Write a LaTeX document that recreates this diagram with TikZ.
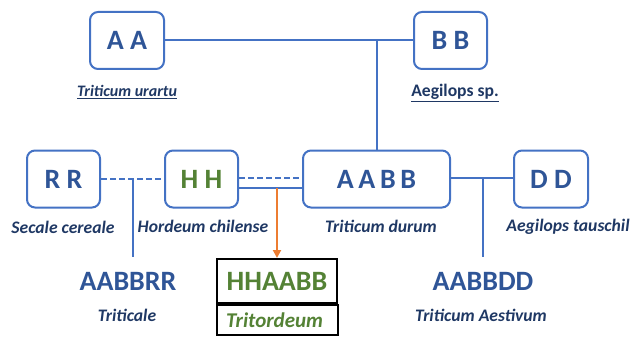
\documentclass[tikz,border=0pt]{standalone}
\usepackage{fontspec}
\setmainfont{Carlito}
\usetikzlibrary{arrows.meta}
\definecolor{boxblue}{HTML}{4472C4}
\definecolor{txtblue}{HTML}{2F5597}
\definecolor{navy}{HTML}{1F3864}
\definecolor{grn}{HTML}{548235}
\definecolor{org}{HTML}{ED7D31}
\tikzset{
  genome/.style={draw=boxblue, line width=2pt, rounded corners=8pt, font=\fontsize{28}{30}\selectfont\bfseries, text=txtblue, minimum height=57pt, inner sep=0pt},
  lbl/.style={font=\fontsize{17.6}{20}\selectfont\bfseries\itshape, text=navy, inner sep=0pt},
  big/.style={font=\fontsize{28}{30}\selectfont\bfseries, text=txtblue, inner sep=0pt},
  link/.style={draw=boxblue, line width=2pt},
  dlink/.style={draw=boxblue, line width=2pt, dash pattern=on 6pt off 3pt}
}
\begin{document}
\begin{tikzpicture}[x=1pt,y=-1pt]
\useasboundingbox (0,0) rectangle (630,337);
\node[genome, minimum width=74pt] (aa) at (127,40.5) {A A};
\node[genome, minimum width=73pt] (bb) at (450.5,40.5) {B B};
\node[genome, minimum width=73pt] (rr) at (63.5,179) {R R};
\node[genome, minimum width=73pt, text=grn] (hh) at (201.5,179) {H H};
\node[genome, minimum width=147pt] (aabb) at (376.5,179) {A\,A\,B\,B};
\node[genome, minimum width=74pt] (dd) at (551,179) {D D};

\node[lbl, font=\fontsize{16}{18}\selectfont\bfseries\itshape] (turartu) at (127,92) {\underline{Triticum urartu}};
\node[lbl, font=\fontsize{17.6}{20}\selectfont\bfseries] (aegsp) at (455,93) {\underline{Aegilops sp.}};
\node[lbl] (secale) at (63,227) {Secale cereale};
\node[lbl] (hordeum) at (203,226) {Hordeum chilense};
\node[lbl] (durum) at (381,226) {Triticum durum};
\node[lbl] (tauschil) at (568,227) {Aegilops tauschil};

\node[big] (aabbrr) at (128,281) {AABBRR};
\node[lbl] (triticale) at (127,315) {Triticale};
\node[big] (aabbdd) at (483,281) {AABBDD};
\node[lbl] (aestivum) at (481,315) {Triticum Aestivum};

\node[draw=black, line width=2pt, minimum width=120pt, minimum height=44pt, inner sep=0pt, font=\fontsize{28}{30}\selectfont\bfseries, text=grn] (hhaabb) at (277,281) {HHAABB};
\node[draw=black, line width=2pt, minimum width=121pt, minimum height=30pt, inner xsep=9pt, inner ysep=0pt, anchor=north west, font=\fontsize{21}{24}\selectfont\bfseries\itshape, text=grn, text width=103pt, align=left] (tritordeum) at (hhaabb.south west) {Tritordeum};

% AA - BB
\draw[link] (aa.east) -- (bb.west);
\coordinate (jab) at (376.5,40.5);
\draw[link] (jab) -- (aabb.north);

% RR - HH dashed, vertical to AABBRR
\draw[dlink] (rr.east) -- (hh.west);
\coordinate (jrh) at (133,178);
\coordinate (jrhb) at (133,257);
\draw[link] (jrh) -- (jrhb);

% HH - AABB
\draw[dlink] ([yshift=1pt]hh.east) -- ([yshift=1pt]aabb.west);
\draw[link] ([yshift=-9pt]hh.east) -- ([yshift=-9pt]aabb.west);
\coordinate (jha) at (277,188);
\draw[draw=org, line width=2pt, -{Triangle[length=8pt,width=8pt]}] (jha) -- (hhaabb.north);

% AABB - DD
\draw[link] ([yshift=1pt]aabb.east) -- ([yshift=1pt]dd.west);
\coordinate (jad) at (483,178);
\coordinate (jadb) at (483,257);
\draw[link] (jad) -- (jadb);
\end{tikzpicture}
\end{document}
